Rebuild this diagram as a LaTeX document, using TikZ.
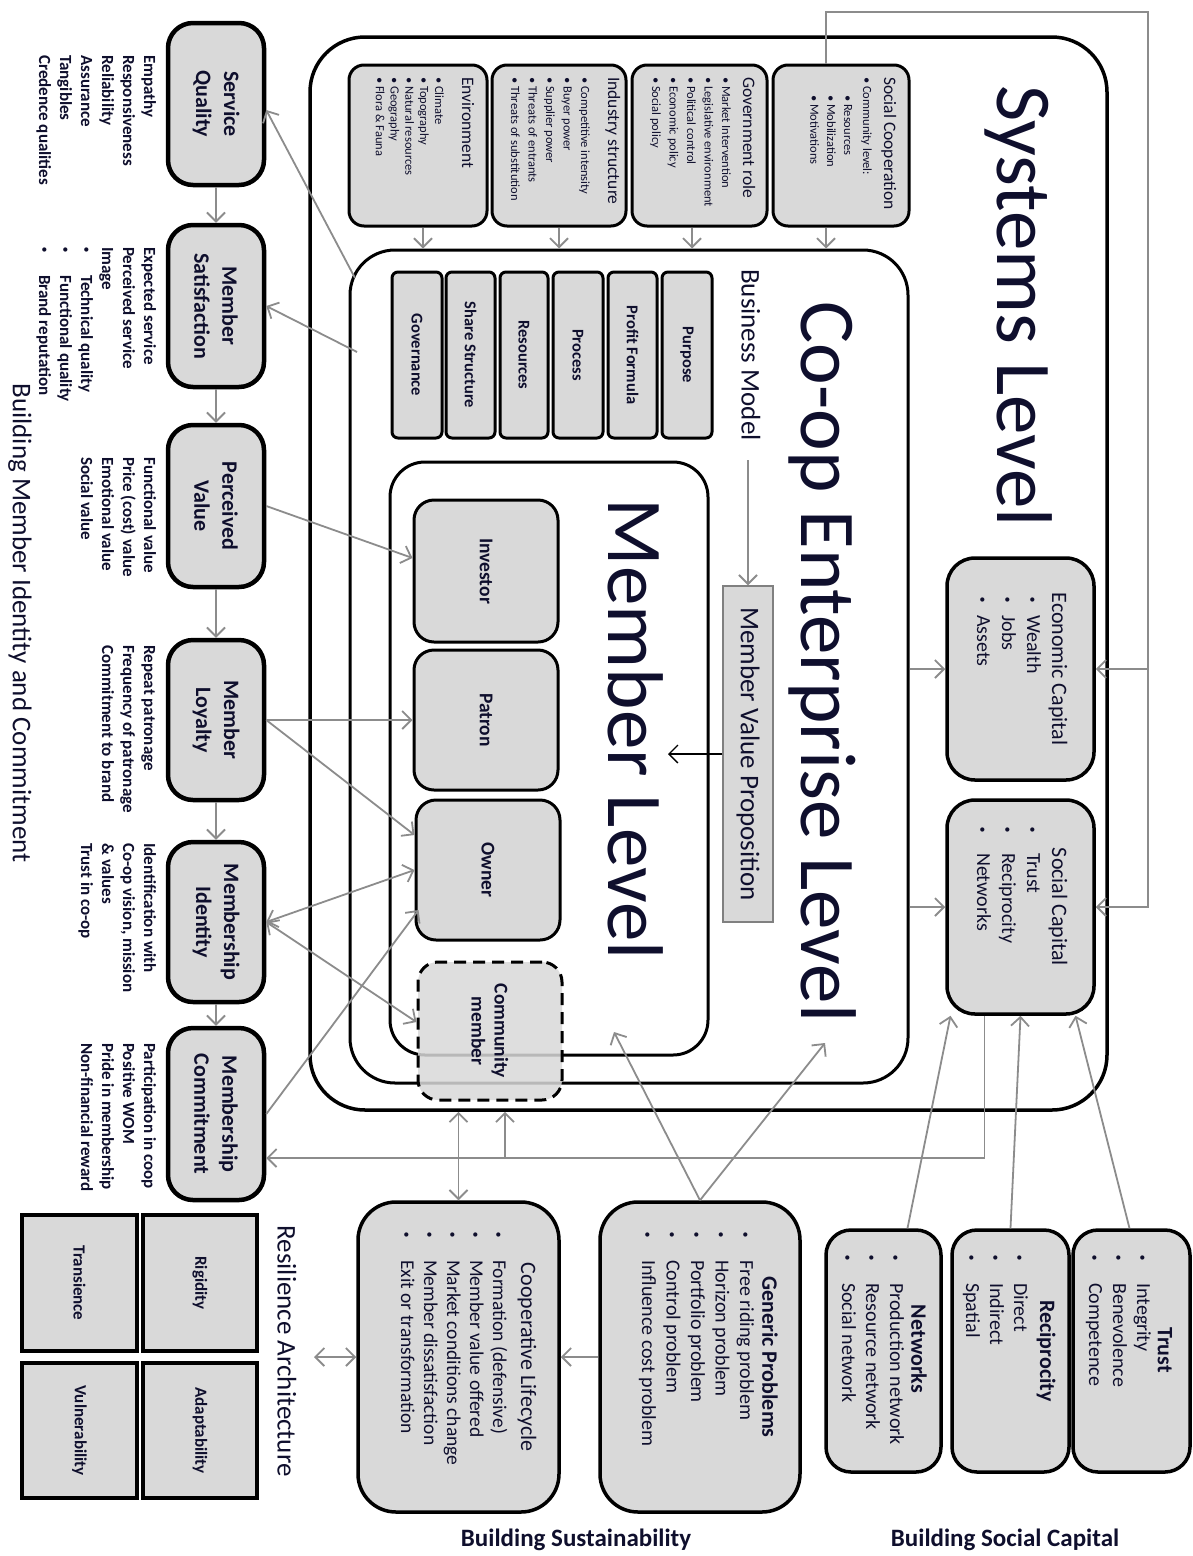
\documentclass[tikz,border=0pt]{standalone}
\usepackage{fontspec}
\setmainfont{Carlito}
\usetikzlibrary{arrows.meta,calc}
\definecolor{boxfill}{RGB}{217,217,217}
\definecolor{conng}{RGB}{140,140,140}
\definecolor{txt}{RGB}{15,15,45}
\newcommand\fs[2]{\fontsize{#1}{#2}\selectfont}
\newcommand\bul[1]{\makebox[#1pt][l]{\raisebox{2.5pt}{\fontsize{10}{10}\selectfont\bfseries •}}}
\newcommand\vlist[6][]{\foreach \itm [count=\i] in {#6}{\node[lst,#1] (#2-\i) at ({#3-(\i-1)*#5},#4) {\itm};}}
\newcommand\bnode[6][]{%
  \pgfmathsetmacro\bcx{(#3+#5)/2}%
  \pgfmathsetmacro\bcy{(#4+#6)/2}%
  \pgfmathsetmacro\bw{#5-#3}%
  \pgfmathsetmacro\bh{#6-#4}%
  \node[box,#1,minimum width=\bw pt,minimum height=\bh pt] (#2) at (\bcx,\bcy) {};}
\begin{document}
\begin{tikzpicture}[x=1pt,y=-1pt,
  every node/.style={text=txt},
  box/.style={draw=black, fill=boxfill, line width=3pt, inner sep=0pt},
  lst/.style={rotate=-90, anchor=base west, inner sep=0pt},
  ttl/.style={rotate=-90, inner sep=0pt, align=center},
  conn/.style={draw=conng, line width=1.8pt, -{Straight Barb[length=9pt,width=18pt]}},
  conn2/.style={draw=conng, line width=1.8pt, {Straight Barb[length=9pt,width=18pt]}-{Straight Barb[length=9pt,width=18pt]}},
  connk/.style={draw=black, line width=1.3pt, -{Straight Barb[length=9pt,width=18pt]}}]
\useasboundingbox (0,0) rectangle (1192,1556);
\fill[white] (0,0) rectangle (1192,1556);

% ---------- nested levels ----------
\bnode[rounded corners=55pt, fill=white, line width=3.5pt]{sys}{310}{37}{1107}{1110}
\bnode[rounded corners=45pt, fill=white, line width=3pt]{coop}{350}{250}{908}{1083}
\bnode[rounded corners=35pt, fill=white, line width=3pt]{mlev}{390}{462}{708}{1055}
\node[ttl, font=\fs{79}{90}] (syslab) at (1019,306) {Systems Level};
\node[ttl, font=\fs{79}{90}] (cooplab) at (823,662) {Co-op Enterprise Level};
\node[ttl, font=\fs{79}{90}] (mlab) at (636,729) {Member Level};

% ---------- environment row ----------
\bnode[rounded corners=15pt]{env}{349}{65}{487}{226}
\bnode[rounded corners=15pt]{ind}{492}{65}{626}{226}
\bnode[rounded corners=15pt]{gov}{632}{65}{767}{226}
\bnode[rounded corners=15pt]{soc}{773}{65}{909}{226}
\node[lst, font=\fs{17.5}{20}] (env-t) at (462,77) {Environment};
\vlist[font=\fs{12.5}{15}]{env}{435}{77}{14.8}{• Climate, • Topography, • Natural resources, • Geography, • Flora \& Fauna}
\node[lst, font=\fs{17.5}{20}] (ind-t) at (608,77) {Industry structure};
\vlist[font=\fs{12.5}{15}]{ind}{581}{77}{17.5}{• Competitive intensity, • Buyer power, • Supplier power, • Threats of entrants, • Threats of substitution}
\node[lst, font=\fs{17.5}{20}] (gov-t) at (743,77) {Government role};
\vlist[font=\fs{12.5}{15}]{gov}{722}{77}{17.5}{• Market Intervention, • Legislative environment, • Political control, • Economic policy, • Social policy}
\node[lst, font=\fs{17.5}{20}] (soc-t) at (884,77) {Social Cooperation};
\node[lst, font=\fs{12.5}{15}] (soc-0) at (863,77) {• Community level:};
\vlist[font=\fs{12.5}{15}]{soc}{844}{95}{16.8}{• Resources, • Mobilization, • Motivations}

% ---------- business model ----------
\bnode[rounded corners=6pt]{gvn}{392}{272}{442}{438}
\bnode[rounded corners=6pt]{shs}{446}{272}{495}{438}
\bnode[rounded corners=6pt]{res}{500}{272}{548}{438}
\bnode[rounded corners=6pt]{prc}{553}{272}{603}{438}
\bnode[rounded corners=6pt]{pff}{608}{272}{657}{438}
\bnode[rounded corners=6pt]{pur}{662}{272}{712}{438}
\node[ttl, font=\fs{16.5}{20}\bfseries] (gvn-t) at (gvn) {Governance};
\node[ttl, font=\fs{16.5}{20}\bfseries] (shs-t) at (shs) {Share Structure};
\node[ttl, font=\fs{16.5}{20}\bfseries] (res-t) at (res) {Resources};
\node[ttl, font=\fs{16.5}{20}\bfseries] (prc-t) at (prc) {Process};
\node[ttl, font=\fs{16.5}{20}\bfseries] (pff-t) at (pff) {Profit Formula};
\node[ttl, font=\fs{16.5}{20}\bfseries] (pur-t) at (pur) {Purpose};
\node[ttl, font=\fs{27}{30}] (bm) at (751,355) {Business Model};
\bnode[draw=gray, line width=1.5pt]{mvp}{723}{586}{773}{922}
\node[ttl, font=\fs{27}{30}] (mvp-t) at (mvp) {Member Value Proposition};

% ---------- member roles ----------
\bnode[rounded corners=20pt]{inv}{414}{500}{558}{642}
\bnode[rounded corners=20pt]{pat}{414}{650}{558}{790}
\bnode[rounded corners=20pt]{own}{416}{800}{560}{940}
\bnode[rounded corners=20pt, dash pattern=on 12pt off 7pt, fill opacity=0.85]{com}{418}{962}{562}{1100}
\node[ttl, font=\fs{19.5}{23}\bfseries] (inv-t) at (inv) {Investor};
\node[ttl, font=\fs{19.5}{23}\bfseries] (pat-t) at (pat) {Patron};
\node[ttl, font=\fs{19.5}{23}\bfseries] (own-t) at (own) {Owner};
\node[ttl, font=\fs{19.5}{23}\bfseries] (com-t) at (com) {Community\\member};

% ---------- capitals ----------
\bnode[rounded corners=28pt, line width=3.5pt]{ec}{947}{558}{1094}{780}
\bnode[rounded corners=28pt, line width=3.5pt]{sc}{947}{800}{1094}{1014}
\node[ttl, font=\fs{22}{26}] (ec-t) at (1058,669) {Economic Capital};
\vlist[font=\fs{20}{24}]{ec}{1027}{597}{25}{\bul{18}Wealth, \bul{18}Jobs, \bul{18}Assets}
\node[ttl, font=\fs{22}{26}] (sc-t) at (1058,907) {Social Capital};
\vlist[font=\fs{20}{24}]{sc}{1027}{827}{25}{\bul{26}Trust, \bul{26}Reciprocity, \bul{26}Networks}

% ---------- left column ----------
\bnode[rounded corners=25pt, line width=4.5pt]{sq}{168}{23}{264}{185}
\bnode[rounded corners=25pt, line width=4.5pt]{ms}{168}{225}{264}{387}
\bnode[rounded corners=25pt, line width=4.5pt]{pv}{168}{425}{264}{587}
\bnode[rounded corners=25pt, line width=4.5pt]{ml}{168}{640}{264}{800}
\bnode[rounded corners=25pt, line width=4.5pt]{mi}{168}{842}{264}{1002}
\bnode[rounded corners=25pt, line width=4.5pt]{mc}{168}{1028}{264}{1200}
\node[ttl, font=\fs{22}{28}\bfseries] (sq-t) at (sq) {Service\\Quality};
\node[ttl, font=\fs{22}{28}\bfseries] (ms-t) at (ms) {Member\\Satisfaction};
\node[ttl, font=\fs{22}{28}\bfseries] (pv-t) at (pv) {Perceived\\Value};
\node[ttl, font=\fs{22}{28}\bfseries] (ml-t) at (ml) {Member\\Loyalty};
\node[ttl, font=\fs{22}{28}\bfseries] (mi-t) at (mi) {Membership\\Identity};
\node[ttl, font=\fs{22}{28}\bfseries] (mc-t) at (mc) {Membership\\Commitment};
\vlist[font=\fs{17}{21}\bfseries]{sql}{144}{55}{21}{Empathy, Responsiveness, Reliability, Assurance, Tangibles, Credence qualities}
\vlist[font=\fs{17}{21}\bfseries]{msl}{144}{247}{21}{Expected service, Perceived service, Image, \bul{28}Technical quality, \bul{28}Functional quality, \bul{28}Brand reputation}
\vlist[font=\fs{17}{21}\bfseries]{pvl}{144}{457}{21}{Functional value, Price (cost) value, Emotional value, Social value}
\vlist[font=\fs{17}{21}\bfseries]{mll}{144}{645}{21}{Repeat patronage, Frequency of patronage, Commitment to brand}
\vlist[font=\fs{17}{21}\bfseries]{mil}{144}{843}{21}{Identification with, {Co-op vision, mission}, \& values, Trust in co-op}
\vlist[font=\fs{17}{21}\bfseries]{mcl}{144}{1043}{21}{Participation in coop, Positive WOM, Pride in membership, Non-financial reward}
\node[ttl, font=\fs{27}{30}] (bmic) at (20,623) {Building Member Identity and Commitment};

% ---------- resilience ----------
\bnode[line width=4.5pt]{rig}{143}{1215}{257}{1351}
\bnode[line width=4.5pt]{tra}{22}{1215}{137}{1351}
\bnode[line width=4.5pt]{ada}{143}{1363}{257}{1498}
\bnode[line width=4.5pt]{vul}{22}{1363}{137}{1498}
\node[ttl, font=\fs{17}{20}\bfseries] (rig-t) at (rig) {Rigidity};
\node[ttl, font=\fs{17}{20}\bfseries] (tra-t) at (tra) {Transience};
\node[ttl, font=\fs{17}{20}\bfseries] (ada-t) at (ada) {Adaptability};
\node[ttl, font=\fs{17}{20}\bfseries] (vul-t) at (vul) {Vulnerability};
\node[ttl, font=\fs{27}{30}] (resarch) at (287,1351) {Resilience Architecture};

% ---------- bottom boxes ----------
\bnode[rounded corners=38pt, line width=3.5pt]{lcl}{358}{1202}{559}{1512}
\bnode[rounded corners=38pt, line width=3.5pt]{gp}{600}{1202}{800}{1512}
\bnode[rounded corners=25pt, line width=3.5pt]{nw}{826}{1230}{941}{1472}
\bnode[rounded corners=25pt, line width=3.5pt]{rc}{952}{1230}{1069}{1472}
\bnode[rounded corners=25pt, line width=3.5pt]{tr}{1073}{1230}{1190}{1472}
\node[ttl, font=\fs{22}{26}] (lcl-t) at (527,1357) {Cooperative Lifecycle};
\vlist[font=\fs{19.5}{23}]{lcl}{493}{1232}{23}{\bul{28}Formation (defensive), \bul{28}Member value offered, \bul{28}Market conditions change, \bul{28}Member dissatisfaction, \bul{28}Exit or transformation}
\node[ttl, font=\fs{22}{26}\bfseries] (gp-t) at (770,1357) {Generic Problems};
\vlist[font=\fs{20}{24}]{gp}{740}{1232}{24.5}{\bul{28}Free riding problem, \bul{28}Horizon problem, \bul{28}Portfolio problem, \bul{28}Control problem, \bul{28}Influence cost problem}
\node[ttl, font=\fs{22}{26}\bfseries] (nw-t) at (919,1349) {Networks};
\vlist[font=\fs{20}{24}]{nw}{890}{1255}{24}{\bul{28}Production network, \bul{28}Resource network, \bul{28}Social network}
\node[ttl, font=\fs{22}{26}\bfseries] (rc-t) at (1046,1351) {Reciprocity};
\vlist[font=\fs{20}{24}]{rc}{1014}{1255}{24}{\bul{28}Direct, \bul{28}Indirect, \bul{28}Spatial}
\node[ttl, font=\fs{22}{26}\bfseries] (tr-t) at (1165,1350) {Trust};
\vlist[font=\fs{20}{24}]{tr}{1137}{1255}{24}{\bul{28}Integrity, \bul{28}Benevolence, \bul{28}Competence}
\node[font=\fs{25}{28}\bfseries, inner sep=0pt] (bsus) at (576,1540) {Building Sustainability};
\node[font=\fs{25}{28}\bfseries, inner sep=0pt] (bsoc) at (1005,1540) {Building Social Capital};

% ---------- coordinates ----------
\coordinate (sqEnd) at (355,278);
\coordinate (msEnd) at (357,352);
\coordinate (gpA) at (614,1032);
\coordinate (gpB) at (825,1043);
\coordinate (brk) at (505,1158);
\coordinate (resR) at (314,1357);
\coordinate (tr1) at (1148,12);
\coordinate (mlIn) at (668,754);
\coordinate (envA) at ($(env.south)+(5,0)$);
\coordinate (indA) at ($(ind.south)+(0,0)$);
\coordinate (govA) at ($(gov.south)+(-7.5,0)$);
\coordinate (socA) at ($(soc.south)+(-15,0)$);

% ---------- connectors ----------
\draw[conn] (sq.south) -- (ms.north);
\draw[conn] (ms.south) -- (pv.north);
\draw[conn] (pv.south) -- (ml.north);
\draw[conn] (ml.south) -- (mi.north);
\draw[conn] (mi.south) -- (mc.north);
\draw[conn] (sqEnd) -- ($(sq.east)+(0,6)$);
\draw[conn] (msEnd) -- (ms.east);
\draw[conn] (pv.east) -- ($(inv.west)+(0,-13)$);
\draw[conn] (ml.east) -- (pat.west);
\draw[conn] (ml.east) -- ($(own.west)+(0,-35)$);
\draw[conn2] (mi.east) -- (own.west);
\draw[conn2] (mi.east) -- ($(com.west)+(0,-9)$);
\draw[conn] (mc.east) -- ($(own.west)+(4,40)$);
\draw[conn] ($(sc.south)+(-36,0)$) |- ($(mc.east)+(0,44)$);
\draw[conn] (brk) -- (brk |- sys.south);
\draw[conn2] (lcl.north |- sys.south) -- (lcl.north);
\draw[conn] (gp.north) -- (gpA);
\draw[conn] (gp.north) -- (gpB);
\draw[conn] (gp.west) -- (lcl.east);
\draw[conn2] (resR) -- (lcl.west);
\draw[conn] ($(nw.north)+(24,0)$) -- ($(sc.south)+(-70,0)$);
\draw[conn] (rc.north) -- (sc.south);
\draw[conn] ($(tr.north)+(-2,0)$) -- ($(sc.south)+(55,0)$);
\draw[conn] (coop.east |- ec.west) -- (ec.west);
\draw[conn] (coop.east |- sc.west) -- (sc.west);
\draw[conn] ($(soc.north)+(-15,0)$) |- (tr1) |- (sc.east);
\draw[conn] (tr1 |- ec.east) -- (ec.east);
\draw[conn] (envA) -- (envA |- coop.north);
\draw[conn] (indA) -- (indA |- coop.north);
\draw[conn] (govA) -- (govA |- coop.north);
\draw[conn] (socA) -- (socA |- coop.north);
\draw[conn] ($(mvp.north)+(0,-125)$) -- (mvp.north);
\draw[connk] (mvp.west) -- (mlIn);
\end{tikzpicture}
\end{document}
